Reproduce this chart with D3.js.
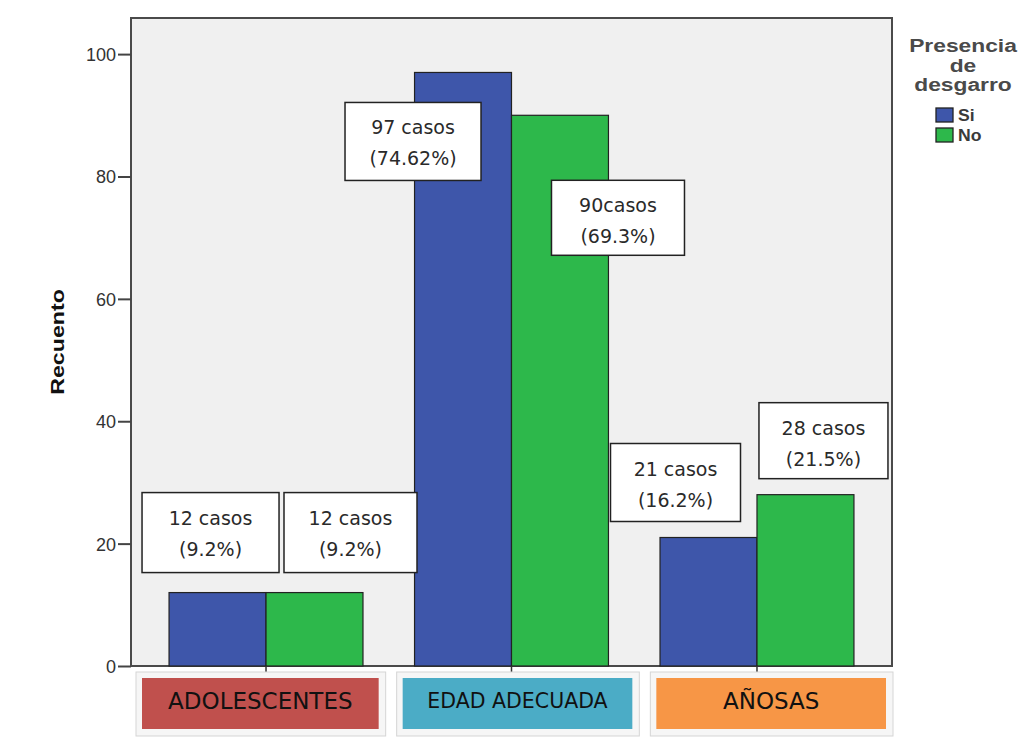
<!DOCTYPE html>
<html>
<head>
<meta charset="utf-8">
<script src="https://cdn.jsdelivr.net/npm/d3@7"></script>
<style>
  body { margin: 0; background: #fff; }
  text { font-family: "DejaVu Sans", sans-serif; }
  .arial { font-family: "Liberation Sans", Arial, sans-serif; }
</style>
</head>
<body>
<svg id="chart" width="1034" height="738"></svg>
<script>
// categories and series
const categories = ["ADOLESCENTES", "EDAD ADECUADA", "AÑOSAS"];
const seriesNames = ["Si", "No"];
const siValues = [12, 97, 21];
const noValues = [12, 90, 28];
const siLabels = [["12 casos", "(9.2%)"], ["97 casos", "(74.62%)"], ["21 casos", "(16.2%)"]];
const noLabels = [["12 casos", "(9.2%)"], ["90casos", "(69.3%)"], ["28 casos", "(21.5%)"]];
const yTicks = [0, 20, 40, 60, 80, 100];
const legendTitle = ["Presencia", "de", "desgarro"];

const barColors = { Si: "#3E56AA", No: "#2DB84B" };
const catColors = ["#C0504D", "#4BACC6", "#F79646"];

const svg = d3.select("#chart");
const plot = { left: 131, right: 892, top: 18, bottom: 666 };

const y = d3.scaleLinear().domain([0, 105.9]).range([plot.bottom, plot.top]);
const x0 = d3.scaleBand().domain(categories)
  .range([plot.left, plot.right]).paddingInner(0.21).paddingOuter(0.155);
const x1 = d3.scaleBand().domain(seriesNames).range([0, x0.bandwidth()]);
// slots for the coloured category boxes
const xSlot = d3.scaleBand().domain(categories).range([plot.left, plot.right]);

// plot background
svg.append("rect")
  .attr("x", plot.left).attr("y", plot.top)
  .attr("width", plot.right - plot.left).attr("height", plot.bottom - plot.top)
  .attr("fill", "#F0F0F0").attr("stroke", "#4a4a4a").attr("stroke-width", 2);

// bars
const rows = categories.map((c, i) => ({ cat: c, Si: siValues[i], No: noValues[i], i }));
const groups = svg.append("g").selectAll("g").data(rows).join("g")
  .attr("transform", d => `translate(${x0(d.cat)},0)`);
groups.selectAll("rect")
  .data(d => seriesNames.map(s => ({ s, v: d[s] })))
  .join("rect")
  .attr("x", d => x1(d.s)).attr("y", d => y(d.v))
  .attr("width", x1.bandwidth()).attr("height", d => y(0) - y(d.v))
  .attr("fill", d => barColors[d.s]).attr("stroke", "#222").attr("stroke-width", 1.2);

// y axis
const yAxis = svg.append("g").attr("transform", `translate(${plot.left},0)`)
  .call(d3.axisLeft(y).tickValues(yTicks).tickSize(13).tickPadding(2));
yAxis.select(".domain").remove();
yAxis.selectAll("line").attr("stroke", "#444").attr("stroke-width", 2);
yAxis.selectAll("text").attr("class", "arial").attr("font-size", 18).attr("fill", "#333")
  .attr("dy", "0.36em")
  .style("font-family", "Liberation Sans, Arial, sans-serif");

svg.append("text").attr("class", "arial")
  .attr("transform", `translate(64,342) rotate(-90) scale(1.22,1)`)
  .attr("text-anchor", "middle").attr("font-size", 19).attr("font-weight", "bold")
  .attr("fill", "#111").text("Recuento");

// x ticks at group centres
svg.append("g").selectAll("line").data(categories).join("line")
  .attr("x1", d => x0(d) + x0.bandwidth() / 2).attr("x2", d => x0(d) + x0.bandwidth() / 2)
  .attr("y1", plot.bottom).attr("y2", plot.bottom + 6)
  .attr("stroke", "#333").attr("stroke-width", 1.5);

// category boxes under the axis
const inset = i => (i === 0 ? 11 : 18);
const catG = svg.append("g").selectAll("g").data(categories).join("g")
  .attr("transform", d => `translate(${xSlot(d)},0)`);
catG.append("rect")
  .attr("x", (d, i) => inset(i) - 6).attr("y", 672)
  .attr("width", (d, i) => xSlot.bandwidth() - inset(i) + 7)
  .attr("height", 64)
  .attr("fill", "#F6F6F6").attr("stroke", "#D5D5D5");
catG.append("rect")
  .attr("x", (d, i) => inset(i)).attr("y", 678)
  .attr("width", (d, i) => xSlot.bandwidth() - inset(i) - 6)
  .attr("height", 51)
  .attr("fill", (d, i) => catColors[i]);
catG.append("text")
  .attr("x", (d, i) => (xSlot.bandwidth() + inset(i) - 6) / 2)
  .attr("y", (d, i) => i === 1 ? 708 : 709)
  .attr("text-anchor", "middle").attr("font-size", (d, i) => i === 1 ? 20.5 : 23)
  .attr("fill", "#111").text(d => d);

// value label boxes (offsets relative to bar centre / bar top)
const labelLayout = [
  { dx: -7, dy: -100, w: 137, h: 80 },
  { dx: 36, dy: -100, w: 133, h: 80 },
  { dx: -50, dy: 30, w: 136, h: 78 },
  { dx: 58, dy: 65, w: 133, h: 75 },
  { dx: -33, dy: -94, w: 130, h: 78 },
  { dx: 18, dy: -92, w: 129, h: 76 }
];
const labelData = [];
categories.forEach((c, i) => {
  labelData.push({ cat: c, s: "Si", v: siValues[i], lines: siLabels[i] });
  labelData.push({ cat: c, s: "No", v: noValues[i], lines: noLabels[i] });
});
const lab = svg.append("g").selectAll("g").data(labelData).join("g")
  .attr("transform", (d, i) => {
    const L = labelLayout[i];
    const cx = x0(d.cat) + x1(d.s) + x1.bandwidth() / 2 + L.dx;
    return `translate(${cx - L.w / 2},${y(d.v) + L.dy})`;
  });
lab.append("rect")
  .attr("width", (d, i) => labelLayout[i].w).attr("height", (d, i) => labelLayout[i].h)
  .attr("fill", "#fff").attr("stroke", "#222").attr("stroke-width", 1.5);
lab.each(function (d, i) {
  const L = labelLayout[i];
  const g = d3.select(this);
  d.lines.forEach((t, k) => {
    g.append("text").attr("x", L.w / 2).attr("y", 32 + k * 31)
      .attr("text-anchor", "middle").attr("font-size", 19).attr("fill", "#2a2a2a").text(t);
  });
});

// legend
const leg = svg.append("g");
legendTitle.forEach((t, k) => {
  leg.append("text").attr("class", "arial")
    .attr("transform", `translate(963,${52 + k * 19.5}) scale(1.2,1)`)
    .attr("text-anchor", "middle").attr("font-size", 19).attr("font-weight", "bold")
    .attr("fill", "#4a4a4a").text(t);
});
seriesNames.forEach((s, k) => {
  leg.append("rect").attr("x", 936).attr("y", 108 + k * 20).attr("width", 17).attr("height", 14)
    .attr("fill", barColors[s]).attr("stroke", "#222").attr("stroke-width", 1.3);
  leg.append("text").attr("class", "arial")
    .attr("transform", `translate(958,${121 + k * 20}) scale(1.1,1)`)
    .attr("font-size", 16).attr("font-weight", "bold").attr("fill", "#3a3a3a").text(s);
});
</script>
</body>
</html>
